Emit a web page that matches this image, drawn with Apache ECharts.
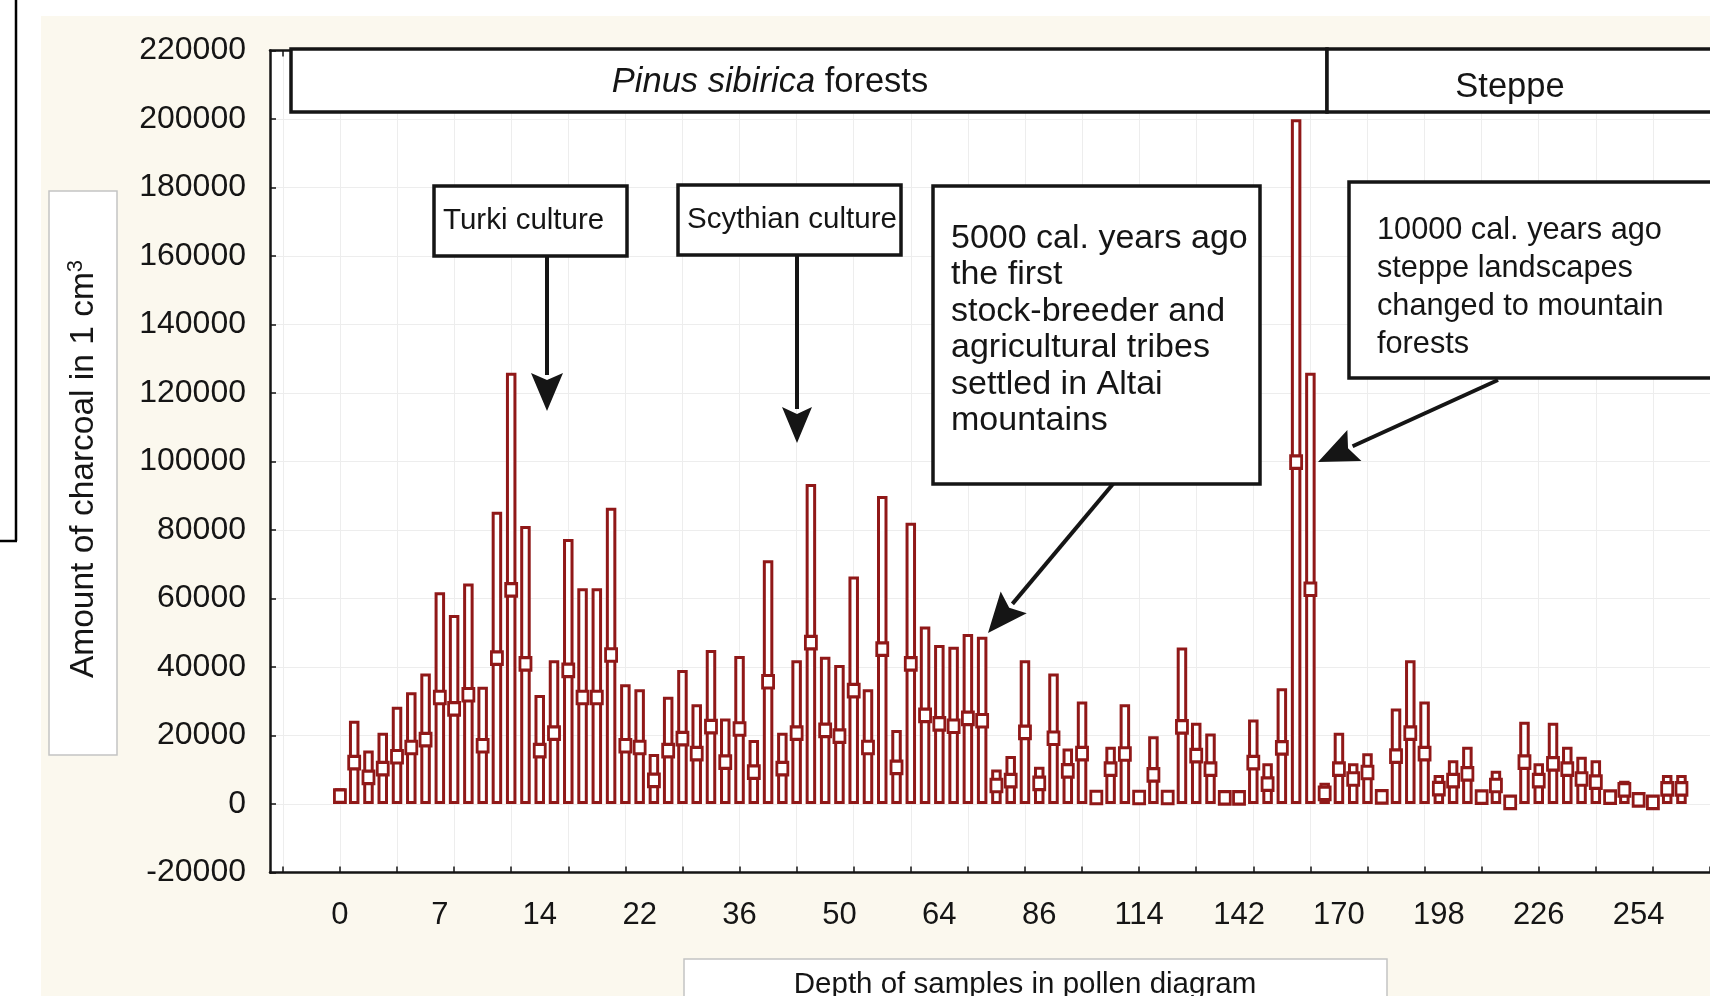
<!DOCTYPE html>
<html><head><meta charset="utf-8">
<script src="https://cdn.jsdelivr.net/npm/echarts@6/dist/echarts.min.js"></script>
<style>html,body{margin:0;padding:0;background:#fff}#c{width:1710px;height:996px}</style>
</head><body><div id="c"></div>
<script>
// Maximum (top of box) per sample
const maxValues = [
  4600, 24300, 15600, 20800, 28400, 32600, 38100, 61800, 55200, 64400,
  34200, 85300, 125900, 81200, 31800, 42000, 77400, 63000, 63000, 86500,
  35000, 33500, 14600, 31300, 39100, 29100, 45000, 25000, 43200, 18700,
  71200, 20800, 42000, 93400, 43000, 40600, 66400, 33500, 89900, 21600,
  82100, 51800, 46400, 45900, 49600, 48800, 10100, 14000, 42000, 10900,
  38100, 16200, 29900, 4000, 16700, 29100, 4000, 19800, 4000, 45700,
  23700, 20600, 3800, 3800, 24700, 11900, 33800, 199900, 125900, 6200,
  20800, 11900, 14800, 4200, 27900, 42000, 29900, 8500, 12800, 16700,
  4000, 9700, 2000, 24000, 11900, 23700, 16700, 13800, 12800, 4000,
  6800, 3000, 2000, 8500, 8500
];
// Mean (square marker) per sample
const meanValues = [
  2300, 12100, 7800, 10300, 13800, 16500, 18800, 31100, 27800, 31900,
  17000, 42600, 62500, 40900, 15600, 20700, 39000, 31100, 31100, 43500,
  17000, 16500, 6900, 15600, 19100, 14700, 22600, 12200, 21900, 9300,
  35700, 10300, 20700, 47100, 21500, 19800, 33100, 16500, 45200, 10700,
  40900, 25900, 23400, 22700, 25000, 24300, 5400, 6800, 20900, 6000,
  19200, 9700, 14700, 1900, 10200, 14600, 1900, 8500, 1900, 22500,
  14100, 10200, 1800, 1800, 12100, 5800, 16400, 99800, 62700, 3100,
  10200, 7300, 9200, 2100, 14000, 20700, 14700, 4500, 6800, 8800,
  2000, 5400, 500, 12200, 6800, 11700, 10200, 7300, 6400, 2000,
  4100, 1200, 500, 4400, 4400
];
// x-axis tick positions (sample index) and labelled samples with their depth labels
const xTickPositions = [-4,0,4,8,12,16,20,24,28,32,36,40,44,48,52,56,60,64,68,72,76,80,84,88,92,96];
const labelSampleIdx = [0,7,14,21,28,35,42,49,56,63,70,77,84,91];
const depthLabels = ['0','7','14','22','36','50','64','86','114','142','170','198','226','254'];

const FONT = '"Liberation Sans", Arial, Helvetica, sans-serif';
const RED = '#901818';
const INK = '#151515';

function arrow(x1, y1, x2, y2, headLen, headW) {
  const dx = x2 - x1, dy = y2 - y1, L = Math.hypot(dx, dy);
  const ux = dx / L, uy = dy / L, px = -uy, py = ux;
  const bx = x2 - ux * headLen, by = y2 - uy * headLen;
  return [
    {type:'line', z:120, shape:{x1:x1, y1:y1, x2:bx + ux*2, y2:by + uy*2}, style:{stroke:INK, lineWidth:4}},
    {type:'polygon', z:120, shape:{points:[[x2,y2],[bx + px*headW/2, by + py*headW/2],[bx + ux*7, by + uy*7],[bx - px*headW/2, by - py*headW/2]]}, style:{fill:INK}}
  ];
}
function box(x, y, w, h) {
  return {type:'rect', z:110, shape:{x:x, y:y, width:w, height:h}, style:{fill:'#fff', stroke:INK, lineWidth:3.5}};
}
function label(x, y, text, size, lh) {
  return {type:'text', z:115, x:x, y:y, style:{text:text, fontFamily:FONT, fontSize:size, lineHeight:lh, fill:INK, align:'left', verticalAlign:'top'}};
}

const graphics = [
  {type:'rect', z:-10, shape:{x:41, y:16, width:1669, height:980}, style:{fill:'#fbf8ee'}},
  {type:'line', z:5, shape:{x1:16, y1:0, x2:16, y2:541}, style:{stroke:'#000', lineWidth:2.5}},
  {type:'line', z:5, shape:{x1:0, y1:541, x2:17, y2:541}, style:{stroke:'#000', lineWidth:2.5}},
  // y-axis title box
  {type:'rect', z:5, shape:{x:49, y:191, width:68, height:564}, style:{fill:'#fff', stroke:'#c4c4c4', lineWidth:1.5}},
  {type:'text', z:6, x:84, y:469, rotation:Math.PI/2, style:{
    text:'{a|Amount of charcoal in 1 cm}{s|3}', align:'center', verticalAlign:'middle',
    rich:{a:{fontFamily:FONT, fontSize:33.5, fill:INK, lineHeight:38}, s:{fontFamily:FONT, fontSize:22, fill:INK, verticalAlign:'top', lineHeight:38}}}},
  // x-axis title box
  {type:'rect', z:5, shape:{x:684, y:959, width:703, height:60}, style:{fill:'#fff', stroke:'#c4c4c4', lineWidth:1.5}},
  {type:'text', z:6, x:1025, y:985, style:{text:'Depth of samples in pollen diagram', fontFamily:FONT, fontSize:29.5, fill:INK, align:'center', verticalAlign:'middle'}},
  // zone boxes
  box(291, 49, 1036, 63),
  box(1327, 49, 390, 63),
  {type:'text', z:115, x:770, y:82, style:{text:'{i|Pinus sibirica} forests', fontFamily:FONT, fontSize:34.5, fill:INK, align:'center', verticalAlign:'middle',
    rich:{i:{fontFamily:FONT, fontSize:34.5, fontStyle:'italic', fill:INK}}}},
  {type:'text', z:115, x:1510, y:87, style:{text:'Steppe', fontFamily:FONT, fontSize:34.5, fill:INK, align:'center', verticalAlign:'middle'}},
  // culture boxes
  box(434, 186, 193, 70),
  label(443, 204, 'Turki culture', 29.5, 34),
  box(678, 185, 223, 70),
  label(687, 203, 'Scythian culture', 29.5, 34),
  box(933, 186, 327, 298),
  label(951, 220, '5000 cal. years ago\nthe first\nstock-breeder and\nagricultural tribes\nsettled in Altai\nmountains', 34, 36.5),
  box(1349, 182, 370, 196),
  label(1377, 212, '10000 cal. years ago\nsteppe landscapes\nchanged to mountain\nforests', 30.7, 38)
].concat(
  arrow(547, 256, 547, 411, 38, 32),
  arrow(797, 255, 797, 443, 36, 30),
  arrow(1113, 484, 988, 633, 40, 34),
  arrow(1498, 380, 1318, 462, 40, 34)
);

const chart = echarts.init(document.getElementById('c'), null, {renderer:'canvas'});
chart.setOption({
  animation:false,
  backgroundColor:'#fff',
  grid:{left:270, right:0, top:50.5, bottom:123.5, show:true, backgroundColor:'#fff', borderWidth:0},
  xAxis:[{
    type:'value', min:-4.9, max:96,
    axisLine:{show:true, onZero:false, lineStyle:{color:INK, width:2.5}},
    axisTick:{show:true, inside:true, length:6, customValues:xTickPositions, lineStyle:{color:INK, width:1.5}},
    axisLabel:{show:true, customValues:labelSampleIdx, formatter:function(v){ const k = labelSampleIdx.indexOf(Math.round(v)); return k >= 0 ? depthLabels[k] : ''; },
      fontFamily:FONT, fontSize:31, color:INK, margin:27},
    splitLine:{show:true, lineStyle:{color:'#ededed', width:1}}
  },{
    type:'value', position:'top', min:-4.9, max:96,
    axisLine:{show:true, onZero:false, lineStyle:{color:INK, width:2.5}},
    axisTick:{show:true, inside:true, length:6, customValues:xTickPositions, lineStyle:{color:INK, width:1.5}},
    axisLabel:{show:false}, splitLine:{show:false}
  }],
  yAxis:{
    type:'value', min:-20000, max:220000, interval:20000,
    axisLine:{show:true, onZero:false, lineStyle:{color:INK, width:2.5}},
    axisTick:{show:true, inside:true, length:6, lineStyle:{color:INK, width:1.5}},
    axisLabel:{fontFamily:FONT, fontSize:32, color:INK, margin:24, formatter:function(v){ return String(v); }},
    splitLine:{show:true, lineStyle:{color:'#ededed', width:1}}
  },
  series:[{
    type:'bar', xAxisIndex:0, data:maxValues.map(function(v,i){return [i,v];}), barWidth:10.5,
    itemStyle:{color:'#fff', borderColor:RED, borderWidth:3}, z:3, silent:true
  },{
    type:'scatter', xAxisIndex:0, data:meanValues.map(function(v,i){return [i,v];}), symbol:'rect', symbolSize:[11,12.5],
    itemStyle:{color:'#fff', borderColor:RED, borderWidth:3, opacity:1}, z:4, silent:true
  }],
  graphic:graphics
});
</script>
</body></html>
